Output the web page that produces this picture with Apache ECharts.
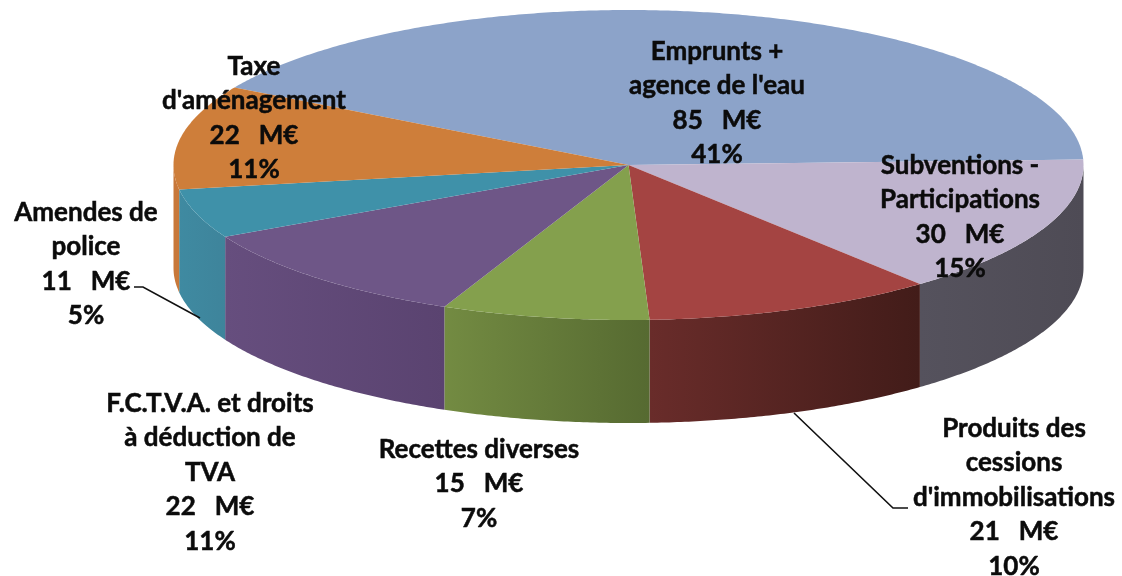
<!DOCTYPE html>
<html>
<head>
<meta charset="utf-8">
<style>html,body{margin:0;padding:0;background:#fff}#c{width:1122px;height:576px}</style>
<script src="https://cdn.jsdelivr.net/npm/echarts@6/dist/echarts.min.js"></script>
</head>
<body>
<div id="c"></div>
<script>
// Data (sizes; labels show them rounded)
const categories = ["Emprunts +\nagence de l'eau", "Subventions -\nParticipations", "Produits des\ncessions\nd'immobilisations", "Recettes diverses", "F.C.T.V.A. et droits\nà déduction de\nTVA", "Amendes de\npolice", "Taxe\nd'aménagement"];
const values = [84.8, 29.9, 21.3, 15.2, 22.1, 10.6, 22.4];
const percents = [41, 15, 10, 7, 11, 5, 11];

// Style
const topColors = ['#8CA3C9', '#BFB4CE', '#A44442', '#84A04D', '#6E5687', '#3F91A9', '#CE7E3A'];
const wallLeft = ['#8CA3C9', '#55525D', '#692C2A', '#738B42', '#664E7E', '#3F8AA1', '#C8783A'];
const wallRight = ['#8CA3C9', '#4E4B55', '#421C19', '#566A31', '#5A4370', '#3E849B', '#C8783A'];

// Layout
const cx = 628.5, cy = 165, rx = 455, ry = 155, depth = 103, startDeg = -2;
const labelCenters = [[717, 34], [960, 148], [1014, 411], [479, 432], [210, 386], [86, 195], [254, 49]];
const leaders = { 5: [[134, 287], [143, 287], [200, 318]], 2: [[794, 413], [893, 508], [908, 508]] };
const fontFamily = 'Lato, Carlito, Calibri, sans-serif';

const total = values.reduce((a, b) => a + b, 0);
const rim = (deg, dy) => {
  const r = deg * Math.PI / 180;
  return [cx + rx * Math.cos(r), cy + ry * Math.sin(r) + (dy || 0)];
};
const arc = (a, b, dy) => {
  const pts = [], n = Math.max(2, Math.ceil(Math.abs(b - a) * 2));
  for (let i = 0; i <= n; i++) pts.push(rim(a + (b - a) * i / n, dy));
  return pts;
};

function sliceAngles(i) {
  // Slices run clockwise on screen from the right edge; Emprunts closes the circle
  const order = [1, 2, 3, 4, 5, 6, 0];
  const pos = order.indexOf(i);
  const before = order.slice(0, pos).reduce((s, k) => s + values[k], 0);
  return [startDeg + before / total * 360, startDeg + (before + values[i]) / total * 360];
}

function renderSlice(params, api) {
  const i = params.dataIndex;
  const [a, b] = sliceAngles(i);
  const children = [];
  const wa = Math.max(a, 0), wb = Math.min(b, 180);
  if (wb > wa) {
    children.push({
      type: 'polygon',
      shape: { points: arc(wa, wb, 0).concat(arc(wb, wa, depth)) },
      style: {
        fill: new echarts.graphic.LinearGradient(0, 0, 1, 0, [
          { offset: 0, color: wallLeft[i] }, { offset: 1, color: wallRight[i] }
        ])
      }
    });
  }
  children.push({
    type: 'polygon',
    shape: { points: [[cx, cy]].concat(arc(a, b, 0)) },
    style: { fill: topColors[i] }
  });
  return { type: 'group', children };
}

function renderLabel(params, api) {
  const i = params.dataIndex;
  const children = [];
  if (leaders[i]) {
    children.push({
      type: 'polyline',
      shape: { points: leaders[i] },
      style: { stroke: '#111', lineWidth: 1.6, fill: null }
    });
  }
  children.push({
    type: 'text',
    style: {
      text: categories[i] + '\n' + Math.round(api.value(0)) + '   M€\n' + percents[i] + '%',
      x: labelCenters[i][0],
      y: labelCenters[i][1],
      align: 'center',
      verticalAlign: 'top',
      font: 'bold 26px ' + fontFamily,
      lineHeight: 34.5,
      fill: '#0b0b0b',
      stroke: '#0b0b0b',
      lineWidth: 0.5
    }
  });
  return { type: 'group', children };
}

const chart = echarts.init(document.getElementById('c'), null, { renderer: 'canvas' });
chart.setOption({
  animation: false,
  backgroundColor: '#fff',
  tooltip: { show: false },
  series: [
    { type: 'custom', coordinateSystem: 'none', silent: true, renderItem: renderSlice, data: values.map(v => [v]), z: 1 },
    { type: 'custom', coordinateSystem: 'none', silent: true, renderItem: renderLabel, data: values.map(v => [v]), z: 2 }
  ]
});
</script>
</body>
</html>
